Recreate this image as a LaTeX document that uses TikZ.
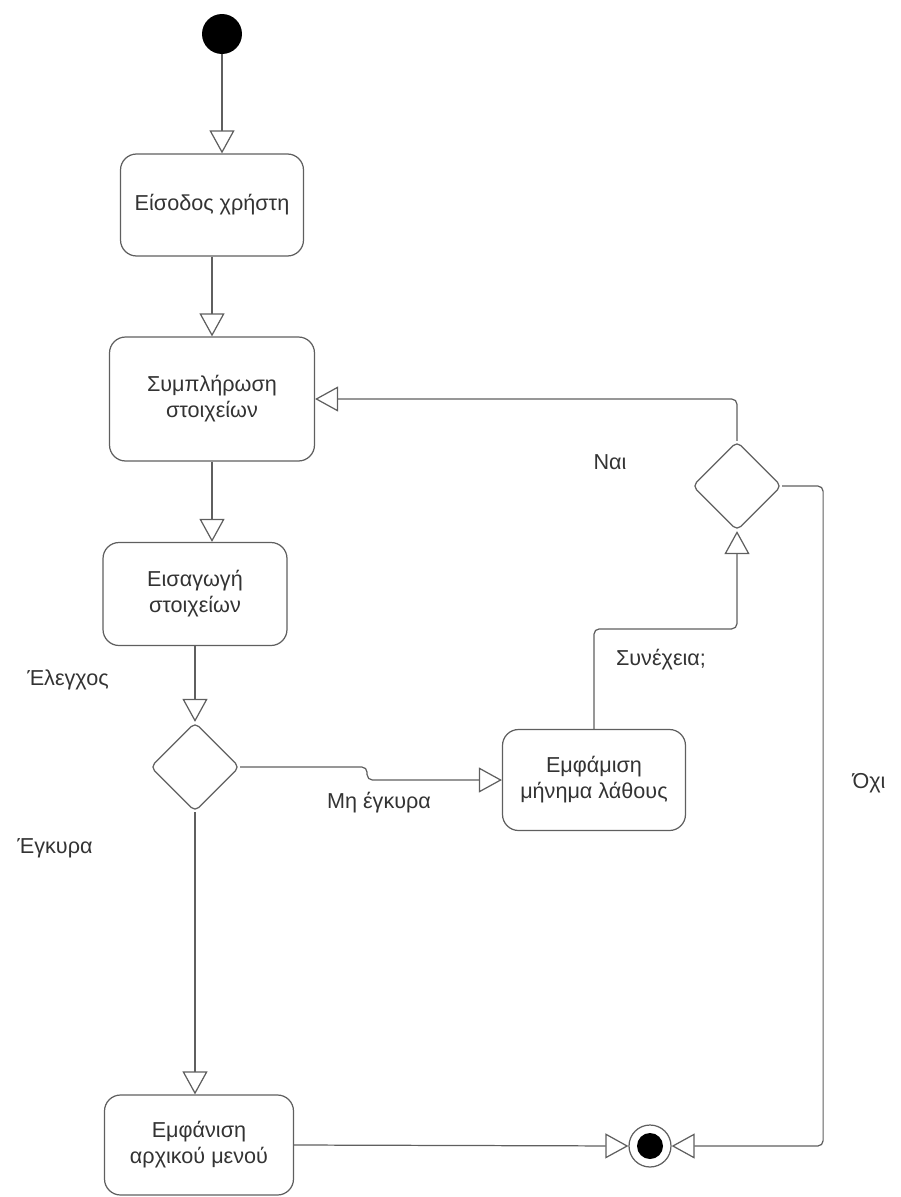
\documentclass[tikz,border=0pt]{standalone}
\usepackage{fontspec}
\setmainfont{Liberation Sans}
\usetikzlibrary{arrows.meta, shapes.geometric}

\definecolor{linegray}{HTML}{5F5F5F}
\definecolor{textgray}{HTML}{333333}

\begin{document}
\begin{tikzpicture}[
		x=0.02cm, y=-0.02cm,
		every node/.style={font=\fontsize{12.3}{14.8}\selectfont, text=textgray, align=center},
		act/.style={draw=linegray, line width=0.7pt, rounded corners=0.32cm, inner sep=0pt},
		dec/.style={diamond, draw=linegray, line width=0.7pt, rounded corners=3pt, minimum width=1.78cm, minimum height=1.78cm, inner sep=0pt},
		flow/.style={draw=linegray, line width=0.7pt, rounded corners=3pt, -{Triangle[open, length=0.46cm, width=0.5cm]}}]
		\useasboundingbox (0,0) rectangle (901,1197);

		\node[circle, fill=black, minimum size=0.8cm, inner sep=0pt] (start) at (222,34) {};
		\node[act, minimum width=3.66cm, minimum height=2.04cm] (b1) at (212,205) {Είσοδος χρήστη};
		\node[act, minimum width=4.1cm, minimum height=2.48cm] (b2) at (212,399) {Συμπλήρωση\\στοιχείων};
		\node[act, minimum width=3.68cm, minimum height=2.06cm] (b3) at (195,594) {Εισαγωγή\\στοιχείων};
		\node[dec] (d1) at (195,767) {};
		\node[act, minimum width=3.66cm, minimum height=2.02cm] (b5) at (594,780) {Εμφάμιση\\μήνημα λάθους};
		\node[dec] (d2) at (737,486) {};
		\node[act, minimum width=3.78cm, minimum height=2.0cm] (b4) at (199,1145) {Εμφάνιση\\αρχικού μενού};
		\node[circle, draw=linegray, line width=0.7pt, minimum size=0.84cm, inner sep=0pt,
			path picture={\fill[black] (path picture bounding box.center) circle (0.26cm);}] (fin) at (650,1146) {};

		% labels
		\node (elegxos) at (68,680) {Έλεγχος};
		\node (egkyra) at (55,848) {Έγκυρα};
		\node (mhegkyra) at (379,803) {Μη έγκυρα};
		\node (nai) at (610,462) {Ναι};
		\node (synexeia) at (661,660) {Συνέχεια;};
		\node (oxi) at (869,783) {Όχι};

		\draw[flow] (start) -- (start |- b1.north);
		\draw[flow] (b1) -- (b2);
		\draw[flow] (b2.south) -- (b2.south |- b3.north);
		\draw[flow] (b3) -- (d1);
		\draw[flow] (d1.east) -- ++(127,0) -- ++(0,13) -- (b5.west);
		\draw[flow] (b5.north) -- ++(0,-100) -| (d2.south);
		\draw[flow] (d2.north) |- (b2.east);
		\draw[flow] (d2.east) -- ++(41,0) |- (fin.east);
		\draw[flow] (d1.south) -- (d1.south |- b4.north);
		\draw[flow] (b4.east) -- (fin.west);
\end{tikzpicture}
\end{document}
